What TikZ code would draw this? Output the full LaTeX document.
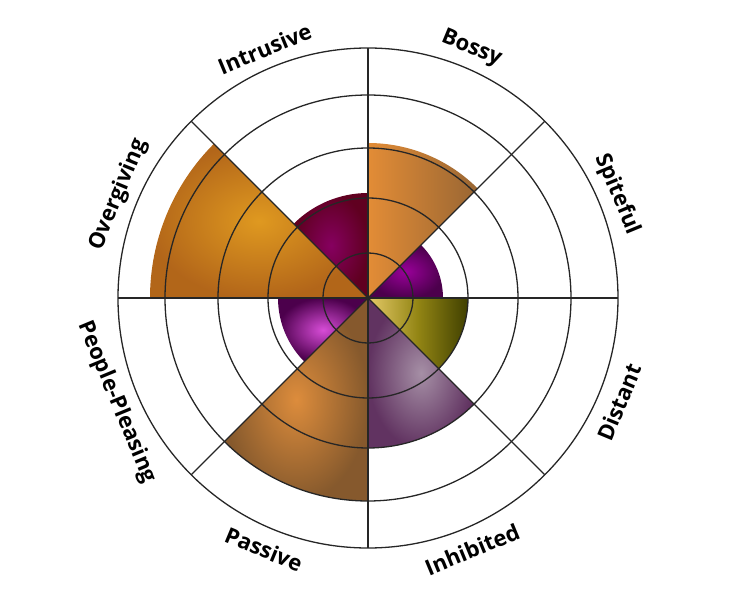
\documentclass[tikz,border=0pt]{standalone}
\usepackage{fontspec}
\setmainfont{Open Sans}
\begin{document}
\begin{tikzpicture}[x=1pt,y=1pt,
    ring/.style={draw=black!85, line width=1.3pt},
    lbl/.style={font=\bfseries\fontsize{22}{25}\selectfont, inner sep=0pt}]
  \useasboundingbox (-368,-302) rectangle (364,298);
  \coordinate (c) at (0,0);
  % wedges
  \shade[left color=orange!50!brown!90, right color=brown!80!black] (c) -- (45:155) arc (45:90:155) -- cycle;
  \shade[inner color=violet!50!magenta!80!black, outer color=violet!60!black] (c) -- (0:75) arc (0:45:75) -- cycle;
  \shade[left color=yellow!40!brown!70, right color=olive!50!black] (c) -- (-45:100) arc (-45:0:100) -- cycle;
  \shade[inner color=violet!25!gray!70, outer color=violet!45!black!80] (c) -- (-90:150) arc (-90:-45:150) -- cycle;
  \shade[inner color=orange!40!brown!90, outer color=brown!70!black] (c) -- (-135:203) arc (-135:-90:203) -- cycle;
  \shade[inner color=violet!45!magenta!70, outer color=violet!60!black] (c) -- (180:90) arc (180:225:90) -- cycle;
  \shade[inner color=orange!60!yellow!50!brown, outer color=orange!50!brown!80!black] (c) -- (135:218) arc (135:180:218) -- cycle;
  \shade[inner color=purple!50!magenta!60!black, outer color=purple!50!black] (c) -- (90:105) arc (90:135:105) -- cycle;
  % grid
  \foreach \r in {45,100,150,203,250} \draw[ring] (c) circle (\r);
  \foreach \a in {0,45,...,315} \draw[ring] (c) -- (\a:250);
  % labels
  \node[lbl, rotate=-22.5] (bossy) at (67.5:270) {Bossy};
  \node[lbl, rotate=-67.5] (spiteful) at (22.5:270) {Spiteful};
  \node[lbl, rotate=67.5] (distant) at (-22.5:272) {Distant};
  \node[lbl, rotate=22.5] (inhibited) at (-67.5:272) {Inhibited};
  \node[lbl, rotate=-22.5] (passive) at (-112.5:272) {Passive};
  \node[lbl, rotate=-67.5] (pleasing) at (-157.5:272) {People-Pleasing};
  \node[lbl, rotate=67.5] (overgiving) at (157.5:270) {Overgiving};
  \node[lbl, rotate=22.5] (intrusive) at (112.5:270) {Intrusive};
\end{tikzpicture}
\end{document}
